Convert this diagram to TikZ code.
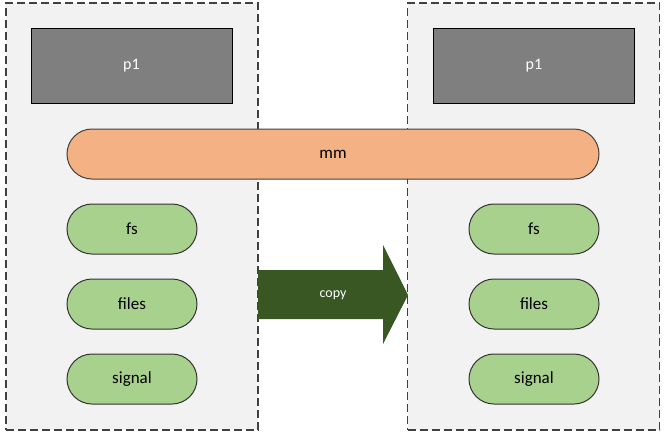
\documentclass[tikz,border=0pt]{standalone}
\usepackage{fontspec}
\setmainfont{Carlito}
\usepackage{tikz}
\usetikzlibrary{positioning}
\definecolor{boxgray}{HTML}{F2F2F2}
\definecolor{procgray}{HTML}{7F7F7F}
\definecolor{mmorange}{HTML}{F4B183}
\definecolor{resgreen}{HTML}{A9D18E}
\definecolor{copygreen}{HTML}{385723}
\tikzset{C/.style={draw=black!75, fill=boxgray, dash pattern=on 8pt off 4pt, line width=1.2pt, minimum width=252pt, minimum height=427pt, inner sep=0pt}}
\tikzset{P/.style={draw=black, fill=procgray, text=white, line width=1pt, minimum width=201pt, minimum height=75pt, inner sep=0pt, font=\fontsize{16}{18}\selectfont}}
\tikzset{M/.style={draw=black!75, fill=mmorange, line width=1pt, rounded corners=25pt, minimum width=532pt, minimum height=50pt, inner sep=0pt, font=\fontsize{17}{19}\selectfont}}
\tikzset{G/.style={draw=black!80, fill=resgreen, line width=1pt, rounded corners=25pt, minimum width=130pt, minimum height=50pt, inner sep=0pt, font=\fontsize{17}{19}\selectfont}}

\begin{document}
\begin{tikzpicture}[x=1pt, y=-1pt, node distance=75pt and 75pt, on grid]
        \useasboundingbox (0,0) rectangle (667,440);
        %% Containers
        \node[C] (left) at (132,216.5) {};
        \node[C] (right) at (533.5,216.5) {};
        %% Processes
        \node[P] (p1l) at (131.5,65.5) {p1};
        \node[P] (p1r) at (534,65.5) {p1};
        %% Shared memory
        \node[M] (mm) at (333,154) {mm};
        %% Left resources
        \node[G] (fsl) at (132,229) {fs};
        \node[G,below = of fsl] (filesl) {files};
        \node[G,below = of filesl] (signall) {signal};
        %% Right resources
        \node[G] (fsr) at (534,229) {fs};
        \node[G,below = of fsr] (filesr) {files};
        \node[G,below = of filesr] (signalr) {signal};
        %% Copy arrow
        \fill[copygreen] (258,270) -- (383,270) -- (383,245) -- (408,295)
            -- (383,344) -- (383,319) -- (258,319) -- cycle;
        \node[text=white, font=\fontsize{14}{16}\selectfont] (copy) at (333,295) {copy};
\end{tikzpicture}
\end{document}
